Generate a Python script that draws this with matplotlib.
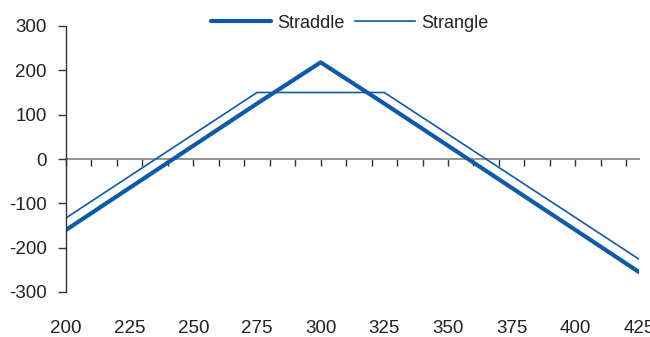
import matplotlib
matplotlib.use("Agg")
import matplotlib.pyplot as plt

# Payoff breakpoints (underlying price vs. profit/loss)
price = [200, 275, 300, 325, 425]
straddle = [-160, 125, 218, 125, -255]
strangle = [-133, 150, 150, 150, -226]

x_labels = [200, 225, 250, 275, 300, 325, 350, 375, 400, 425]
y_ticks = [-300, -200, -100, 0, 100, 200, 300]
zero_ticks = list(range(200, 421, 10))

line_color = "#0d5aa7"
text_color = "#222222"

plt.rcParams["font.family"] = ["Liberation Sans", "DejaVu Sans"]

fig = plt.figure(figsize=(6.5, 3.37), dpi=100)
ax = fig.add_axes([66 / 650, 1 - 292 / 337, (639 - 66) / 650, (292 - 26) / 337])

ax.plot(price, straddle, color=line_color, lw=3.0, label="Straddle",
        solid_joinstyle="round", solid_capstyle="round")
ax.plot(price, strangle, color=line_color, lw=1.2, label="Strangle")

ax.set_xlim(200, 425)
ax.set_ylim(-300, 300)

for side in ("top", "right", "bottom"):
    ax.spines[side].set_visible(False)
ax.spines["left"].set_color("#333333")
ax.spines["left"].set_linewidth(1.0)

ax.set_yticks(y_ticks)
ax.set_yticklabels([str(v) for v in y_ticks])
ax.tick_params(axis="y", direction="out", length=6, width=1.0, color="#333333",
               pad=8, labelsize=13.5, labelcolor=text_color)

ax.set_xticks(x_labels)
ax.set_xticklabels([str(v) for v in x_labels])
ax.tick_params(axis="x", length=0, pad=20, labelsize=13.5, labelcolor=text_color)

# Zero line with its own tick marks hanging below it
zero_ax = ax.secondary_xaxis(0.5)
for side in ("top", "bottom"):
    zero_ax.spines[side].set_color("#8a8a8a")
    zero_ax.spines[side].set_linewidth(1.3)
zero_ax.set_xticks(zero_ticks)
zero_ax.set_xticklabels([])
zero_ax.tick_params(axis="x", direction="in", length=5, width=1.0, color="#333333")

fig.legend(loc="center", bbox_to_anchor=(350 / 650, 1 - 23 / 337), ncol=2,
           frameon=False, fontsize=13, handlelength=3.3, handletextpad=0.35,
           columnspacing=0.6, labelcolor=text_color, borderaxespad=0)

fig.savefig("out.png", dpi=100)
